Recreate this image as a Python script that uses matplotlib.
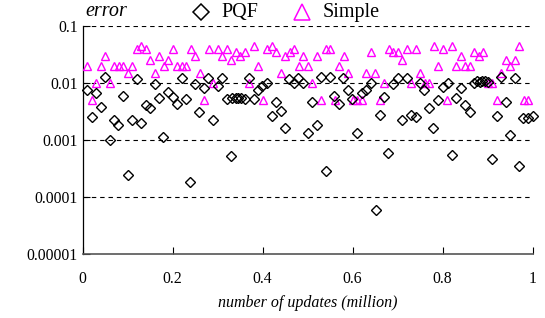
import matplotlib
matplotlib.use('Agg')
import matplotlib.pyplot as plt
from matplotlib.lines import Line2D

plt.rcParams['font.family'] = ['Liberation Serif', 'DejaVu Serif']

# Simple: one point per 0.01 million updates
simple_x = [0.01, 0.02, 0.03, 0.04, 0.05, 0.06, 0.07, 0.08, 0.09, 0.10,
            0.11, 0.12, 0.13, 0.14, 0.15, 0.16, 0.17, 0.18, 0.19, 0.20,
            0.21, 0.22, 0.23, 0.24, 0.25, 0.26, 0.27, 0.28, 0.29, 0.30,
            0.31, 0.32, 0.33, 0.34, 0.35, 0.36, 0.37, 0.38, 0.39, 0.40,
            0.41, 0.42, 0.43, 0.44, 0.45, 0.46, 0.47, 0.48, 0.49, 0.50,
            0.51, 0.52, 0.53, 0.54, 0.55, 0.56, 0.57, 0.58, 0.59, 0.60,
            0.61, 0.62, 0.63, 0.64, 0.65, 0.66, 0.67, 0.68, 0.69, 0.70,
            0.71, 0.72, 0.73, 0.74, 0.75, 0.76, 0.77, 0.78, 0.79, 0.80,
            0.81, 0.82, 0.83, 0.84, 0.85, 0.86, 0.87, 0.88, 0.89, 0.90,
            0.91, 0.92, 0.93, 0.94, 0.95, 0.96, 0.97, 0.98, 0.99]
simple_err = [0.02, 0.005, 0.01, 0.02, 0.03, 0.01, 0.02, 0.02, 0.02, 0.015,
              0.02, 0.04, 0.045, 0.04, 0.025, 0.015, 0.03, 0.02, 0.025, 0.04,
              0.02, 0.02, 0.02, 0.04, 0.03, 0.015, 0.005, 0.04, 0.01, 0.04,
              0.03, 0.04, 0.025, 0.035, 0.03, 0.035, 0.01, 0.045, 0.02, 0.005,
              0.04, 0.045, 0.035, 0.015, 0.03, 0.035, 0.04, 0.02, 0.03, 0.02,
              0.01, 0.03, 0.005, 0.04, 0.04, 0.005, 0.02, 0.03, 0.015, 0.005,
              0.005, 0.005, 0.015, 0.035, 0.015, 0.005, 0.01, 0.04, 0.035, 0.035,
              0.025, 0.04, 0.01, 0.04, 0.015, 0.01, 0.01, 0.045, 0.02, 0.04,
              0.005, 0.045, 0.02, 0.03, 0.02, 0.02, 0.035, 0.03, 0.035, 0.01,
              0.01, 0.005, 0.015, 0.025, 0.02, 0.025, 0.045, 0.005, 0.005]

pqf_x = [0.009, 0.020, 0.030, 0.040, 0.050, 0.061, 0.070, 0.079, 0.089, 0.100,
         0.109, 0.120, 0.130, 0.140, 0.150, 0.161, 0.170, 0.179, 0.190, 0.200,
         0.210, 0.220, 0.230, 0.238, 0.250, 0.258, 0.270, 0.279, 0.290, 0.300,
         0.310, 0.320, 0.330, 0.331, 0.340, 0.346, 0.352, 0.361, 0.370, 0.381,
         0.390, 0.399, 0.409, 0.420, 0.430, 0.440, 0.450, 0.459, 0.470, 0.479,
         0.489, 0.500, 0.510, 0.520, 0.530, 0.540, 0.550, 0.559, 0.570, 0.579,
         0.590, 0.599, 0.610, 0.620, 0.630, 0.640, 0.651, 0.660, 0.670, 0.679,
         0.690, 0.700, 0.710, 0.720, 0.730, 0.741, 0.750, 0.759, 0.769, 0.779,
         0.790, 0.801, 0.811, 0.820, 0.830, 0.840, 0.850, 0.861, 0.869, 0.876,
         0.882, 0.887, 0.894, 0.901, 0.910, 0.921, 0.930, 0.940, 0.950, 0.960,
         0.970, 0.979, 0.990, 1.000]
pqf_err = [0.00747, 0.0025, 0.00675, 0.00371, 0.0125, 0.000984, 0.00224, 0.00183, 0.00578, 0.000245,
           0.00221, 0.0118, 0.0020, 0.00411, 0.00356, 0.00945, 0.0054, 0.00111, 0.00697, 0.00569,
           0.00429, 0.0122, 0.00523, 0.000182, 0.0096, 0.00306, 0.00826, 0.0122, 0.00219, 0.00867,
           0.0124, 0.00512, 0.000521, 0.00534, 0.0054, 0.00534, 0.0054, 0.0053, 0.0122, 0.00512,
           0.00738, 0.00896, 0.00992, 0.00257, 0.00465, 0.00322, 0.00163, 0.0115, 0.0100, 0.0120,
           0.0098, 0.00129, 0.00465, 0.00183, 0.0125, 0.000283, 0.0125, 0.00586, 0.0042, 0.0122,
           0.00747, 0.0053, 0.00129, 0.00675, 0.00756, 0.0098, 0.0000593, 0.00274, 0.00569, 0.000588,
           0.0096, 0.0122, 0.00221, 0.0122, 0.00277, 0.0025, 0.0098, 0.00747, 0.0036, 0.00163,
           0.00504, 0.00834, 0.0100, 0.000536, 0.00547, 0.0080, 0.00407, 0.00306, 0.00992, 0.0110,
           0.0105, 0.0110, 0.0107, 0.0105, 0.00045, 0.00257, 0.0126, 0.00465, 0.0012, 0.0122,
           0.000347, 0.0024, 0.00237, 0.0026]

x_ticks = [0, 0.2, 0.4, 0.6, 0.8, 1]
x_labels = ['0', '0.2', '0.4', '0.6', '0.8', '1']
y_ticks = [0.00001, 0.0001, 0.001, 0.01, 0.1]
y_labels = ['0.00001', '0.0001', '0.001', '0.01', '0.1']

MAGENTA = '#ff00ff'

fig = plt.figure(figsize=(5.45, 3.18), dpi=100)
ax = fig.add_axes([0.1517, 0.2028, 0.8257, 0.7154])

ax.plot(simple_x, simple_err, linestyle='none', marker='^', markersize=6,
        markerfacecolor='none', markeredgecolor=MAGENTA, markeredgewidth=1.0,
        clip_on=False, zorder=3)
ax.plot(pqf_x, pqf_err, linestyle='none', marker='D', markersize=5,
        markerfacecolor='none', markeredgecolor='black', markeredgewidth=1.0,
        clip_on=False, zorder=4)

ax.set_yscale('log')
ax.set_xlim(0, 1)
ax.set_ylim(0.00001, 0.1)
ax.set_xticks(x_ticks)
ax.set_xticklabels(x_labels)
ax.set_yticks(y_ticks)
ax.set_yticklabels(y_labels)
ax.minorticks_off()
ax.tick_params(direction='in', labelsize=11.3, length=5, width=0.8)
ax.tick_params(axis='x', pad=12.5)

for v in y_ticks[1:]:
    ax.axhline(v, color='black', linestyle=(0, (4, 3.5)), linewidth=0.8, zorder=1)

ax.spines['top'].set_visible(False)
ax.spines['right'].set_visible(False)
ax.spines['left'].set_linewidth(0.9)
ax.spines['bottom'].set_color('#555555')
ax.spines['bottom'].set_linewidth(1.2)

ax.set_xlabel('number of updates (million)', fontsize=11.5, style='italic', labelpad=6)

# header row: axis name and legend
ty = 1 - 12 / 318
fig.text(85 / 545, ty, 'error', fontsize=14.5, style='italic', va='center', ha='left')
fig.add_artist(Line2D([201 / 545], [ty], linestyle='none', marker='D', markersize=8,
                      markerfacecolor='none', markeredgecolor='black', markeredgewidth=1.1))
fig.text(221 / 545, ty, 'PQF', fontsize=14.5, va='center', ha='left')
fig.add_artist(Line2D([302 / 545], [ty], linestyle='none', marker='^', markersize=12,
                      markerfacecolor='none', markeredgecolor=MAGENTA, markeredgewidth=1.1))
fig.text(323 / 545, ty, 'Simple', fontsize=14.5, va='center', ha='left')

fig.savefig('out.png', dpi=100)
